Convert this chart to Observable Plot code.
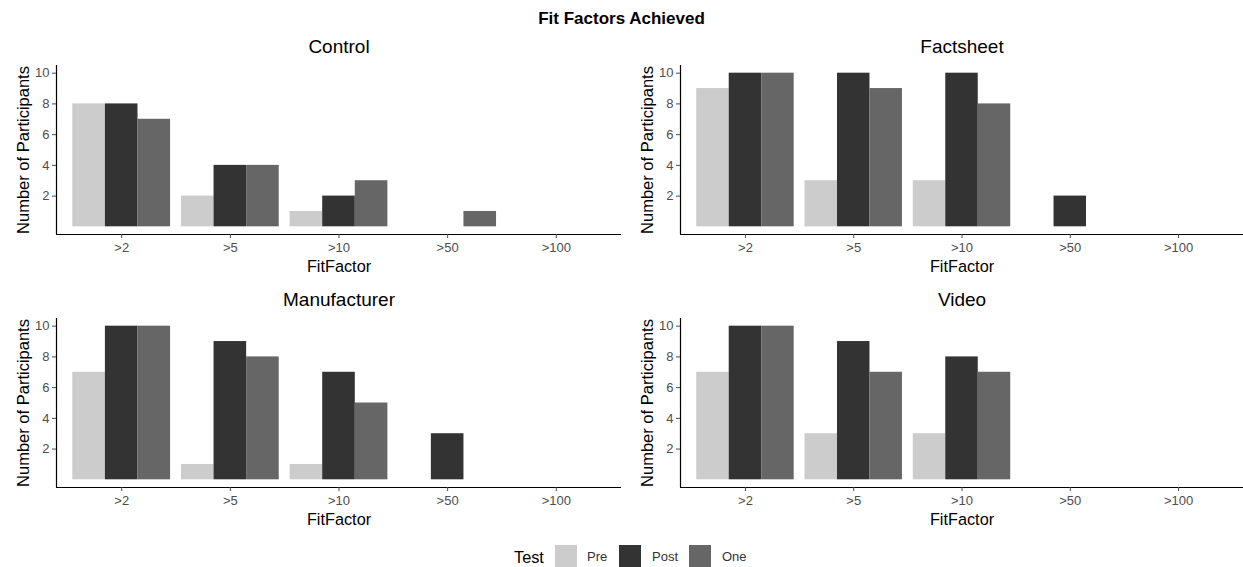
<!DOCTYPE html>
<html>
<head>
<meta charset="utf-8">
<script src="https://cdn.jsdelivr.net/npm/d3@7"></script>
<script src="https://cdn.jsdelivr.net/npm/@observablehq/plot@0.6"></script>
<style>
  body { margin: 0; background: #fff; overflow: hidden; font-family: "Liberation Sans", Arial, Helvetica, sans-serif; }
  #root { position: relative; width: 1243px; height: 567px; background: #fff; }
  .panel { position: absolute; }
  #title { position: absolute; left: 0; top: 9px; width: 1243px; text-align: center; font-weight: bold; font-size: 17px; line-height: 20px; color: #000; }
  .lg { position: absolute; line-height: 22px; white-space: nowrap; }
  .sw { position: absolute; width: 22px; height: 22px; }
</style>
</head>
<body>
<div id="root">
  <div id="title">Fit Factors Achieved</div>
</div>
<script>
// ---- data ----
const fitFactors = [">2", ">5", ">10", ">50", ">100"];
const tests = ["Pre", "Post", "One"];
const testColors = ["#cccccc", "#333333", "#666666"];
const groups = ["Control", "Factsheet", "Manufacturer", "Video"];

const controlPre  = [8, 2, 1, 0, 0];
const controlPost = [8, 4, 2, 0, 0];
const controlOne  = [7, 4, 3, 1, 0];

const factsheetPre  = [9, 3, 3, 0, 0];
const factsheetPost = [10, 10, 10, 2, 0];
const factsheetOne  = [10, 9, 8, 0, 0];

const manufacturerPre  = [7, 1, 1, 0, 0];
const manufacturerPost = [10, 9, 7, 3, 0];
const manufacturerOne  = [10, 8, 5, 0, 0];

const videoPre  = [7, 3, 3, 0, 0];
const videoPost = [10, 9, 8, 0, 0];
const videoOne  = [10, 7, 7, 0, 0];

const yTicks = [2, 4, 6, 8, 10];
const yDomain = [-0.5, 10.5];
const dodgeWidth = 0.9;

const series = {
  Control: [controlPre, controlPost, controlOne],
  Factsheet: [factsheetPre, factsheetPost, factsheetOne],
  Manufacturer: [manufacturerPre, manufacturerPost, manufacturerOne],
  Video: [videoPre, videoPost, videoOne]
};

// category positions 1..n, ggplot-like expansion of 0.6 units
const positions = fitFactors.map((_, i) => i + 1);
const xDomain = [1 - 0.6, fitFactors.length + 0.6];

function rowsFor(group) {
  const rows = [];
  series[group].forEach((vals, t) => {
    vals.forEach((v, i) => rows.push({group, fit: fitFactors[i], pos: positions[i], test: tests[t], ti: t, value: v}));
  });
  return rows;
}

const FONT = '"Liberation Sans", Arial, Helvetica, sans-serif';
const barW = dodgeWidth / tests.length;

function panel(group, left, top, width) {
  const rows = rowsFor(group).filter(d => d.value > 0);
  const chart = Plot.plot({
    width,
    height: 250,
    marginLeft: 56,
    marginRight: 0,
    marginTop: 35,
    marginBottom: 46,
    style: {fontFamily: FONT, fontSize: "13px", background: "transparent", overflow: "visible"},
    x: {type: "linear", domain: xDomain},
    y: {domain: yDomain},
    color: {domain: tests, range: testColors},
    marks: [
      Plot.rectY(rows, {
        x1: d => d.pos - dodgeWidth / 2 + d.ti * barW,
        x2: d => d.pos - dodgeWidth / 2 + (d.ti + 1) * barW,
        y1: 0,
        y2: "value",
        fill: "test"
      }),
      Plot.ruleY([yDomain[0]], {stroke: "#000", strokeWidth: 1.2}),
      Plot.ruleX([xDomain[0]], {stroke: "#000", strokeWidth: 1.2}),
      Plot.axisX(positions, {tickFormat: d => fitFactors[d - 1], tickSize: 4, tickPadding: 4, label: null, color: "#4d4d4d", fontSize: 13}),
      Plot.axisY(yTicks, {tickSize: 4, tickPadding: 3, label: null, color: "#4d4d4d", fontSize: 13}),
      Plot.text([group], {text: d => d, frameAnchor: "top", lineAnchor: "middle", textAnchor: "middle", dy: -19, fontSize: 19, fill: "#000"}),
      Plot.text(["FitFactor"], {text: d => d, frameAnchor: "bottom", lineAnchor: "middle", textAnchor: "middle", dy: 32, fontSize: 16.3, fill: "#000"}),
      Plot.text(["Number of Participants"], {text: d => d, frameAnchor: "left", lineAnchor: "middle", textAnchor: "middle", dx: -33, rotate: -90, fontSize: 16.5, fill: "#000"})
    ]
  });
  const div = document.createElement("div");
  div.className = "panel";
  div.style.left = left + "px";
  div.style.top = top + "px";
  div.appendChild(chart);
  document.getElementById("root").appendChild(div);
}

panel(groups[0], 0, 30, 621);
panel(groups[1], 624, 30, 619);
panel(groups[2], 0, 283, 621);
panel(groups[3], 624, 283, 619);

// legend
const root = document.getElementById("root");
function addText(txt, left, size, color) {
  const el = document.createElement("div");
  el.className = "lg";
  el.style.left = left + "px";
  el.style.top = "546px";
  el.style.fontSize = size + "px";
  el.style.color = color;
  el.textContent = txt;
  root.appendChild(el);
}
addText("Test", 514, 16.3, "#000");
const swLeft = [555, 619, 689];
const lbLeft = [587, 652, 722];
tests.forEach((t, i) => {
  const sw = document.createElement("div");
  sw.className = "sw";
  sw.style.left = swLeft[i] + "px";
  sw.style.top = "545px";
  sw.style.background = testColors[i];
  root.appendChild(sw);
  addText(t, lbLeft[i], 13, "#333");
});
</script>
</body>
</html>
